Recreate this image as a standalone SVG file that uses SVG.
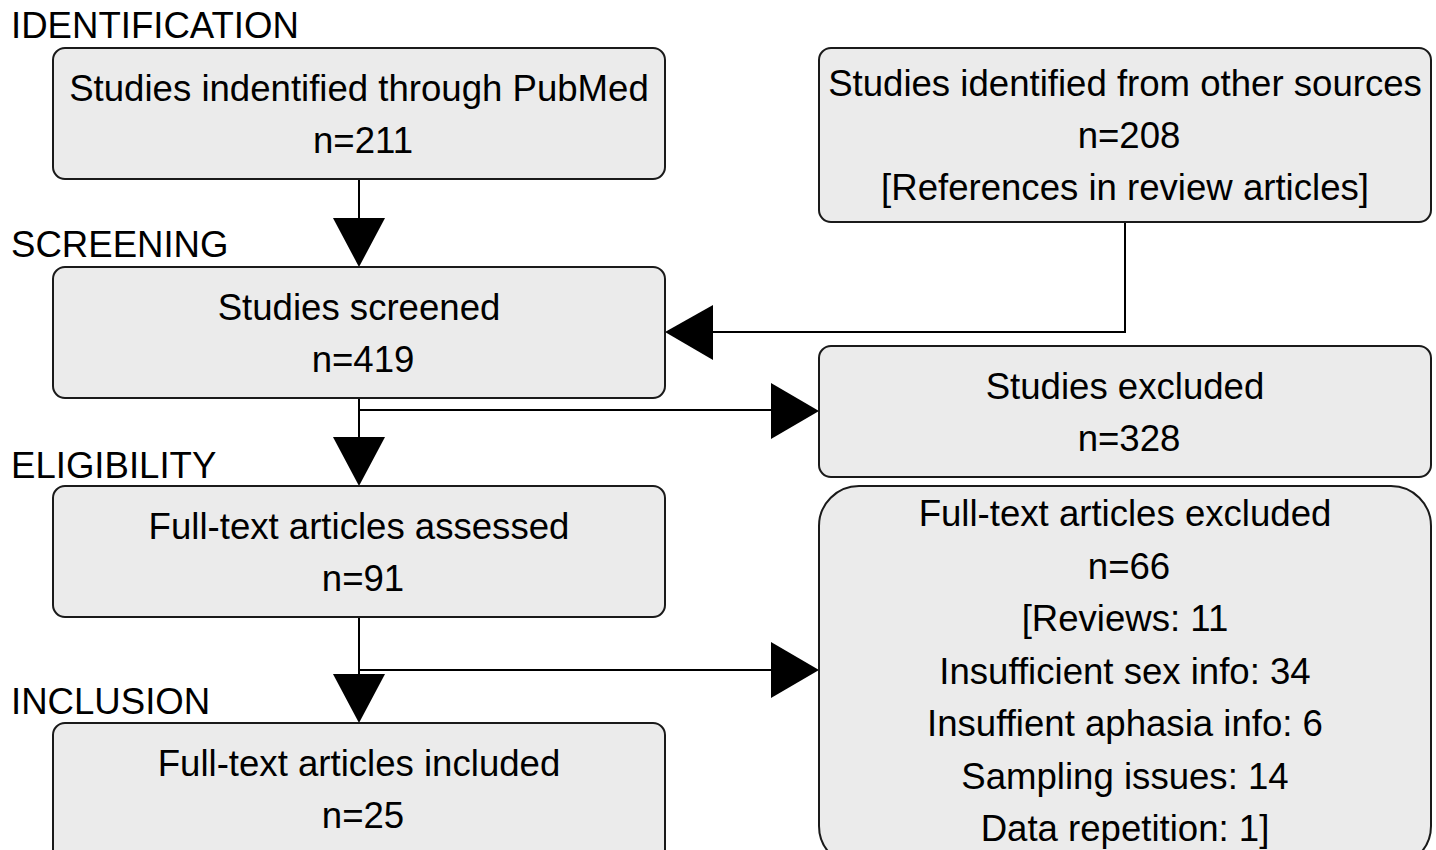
<svg xmlns="http://www.w3.org/2000/svg" width="1436" height="850" viewBox="0 0 1436 850">
<style>
.box{fill:#ebebeb;stroke:#1a1a1a;stroke-width:2}
.t{font-family:"Liberation Sans",Arial,sans-serif;font-size:36.6px;fill:#000;text-anchor:middle}
.lbl{font-family:"Liberation Sans",Arial,sans-serif;font-size:36.6px;fill:#000}
.ln{fill:none;stroke:#000;stroke-width:2}
.ah{fill:#000}
</style>
<rect width="1436" height="850" fill="#fff"/>
<g id="labels">
<text class="lbl" x="11" y="38">IDENTIFICATION</text>
<text class="lbl" x="11" y="257">SCREENING</text>
<text class="lbl" x="11" y="478">ELIGIBILITY</text>
<text class="lbl" x="11" y="714">INCLUSION</text>
</g>
<g id="connectors">
<path class="ln" d="M359 179 V240"/>
<polygon class="ah" points="333,218 385,218 359,267"/>
<path class="ln" d="M1125 222 V332 H700"/>
<polygon class="ah" points="713,305 713,360 665,332"/>
<path class="ln" d="M359 398 V460 M359 410 H790"/>
<polygon class="ah" points="771,383 771,439 819,411"/>
<polygon class="ah" points="333,437 385,437 359,486"/>
<path class="ln" d="M359 617 V700 M359 670 H790"/>
<polygon class="ah" points="771,642 771,698 819,670"/>
<polygon class="ah" points="333,674 385,674 359,723"/>
</g>
<g id="pubmed">
<rect class="box" x="53" y="48" width="612" height="131" rx="12"/>
<text class="t" x="359" y="101">Studies indentified through PubMed</text>
<text class="t" x="363" y="153">n=211</text>
</g>
<g id="other">
<rect class="box" x="819" y="48" width="612" height="174" rx="12"/>
<text class="t" x="1125" y="96">Studies identified from other sources</text>
<text class="t" x="1129" y="148">n=208</text>
<text class="t" x="1125" y="200">[References in review articles]</text>
</g>
<g id="screened">
<rect class="box" x="53" y="267" width="612" height="131" rx="12"/>
<text class="t" x="359" y="320">Studies screened</text>
<text class="t" x="363" y="372">n=419</text>
</g>
<g id="excluded">
<rect class="box" x="819" y="346" width="612" height="131" rx="12"/>
<text class="t" x="1125" y="399">Studies excluded</text>
<text class="t" x="1129" y="451">n=328</text>
</g>
<g id="assessed">
<rect class="box" x="53" y="486" width="612" height="131" rx="12"/>
<text class="t" x="359" y="539">Full-text articles assessed</text>
<text class="t" x="363" y="591">n=91</text>
</g>
<g id="ftexcluded">
<rect class="box" x="819" y="486" width="612" height="380" rx="40"/>
<text class="t" x="1125" y="526">Full-text articles excluded</text>
<text class="t" x="1129" y="579">n=66</text>
<text class="t" x="1125" y="631">[Reviews: 11</text>
<text class="t" x="1125" y="684">Insufficient sex info: 34</text>
<text class="t" x="1125" y="736">Insuffient aphasia info: 6</text>
<text class="t" x="1125" y="789">Sampling issues: 14</text>
<text class="t" x="1125" y="841">Data repetition: 1]</text>
</g>
<g id="included">
<rect class="box" x="53" y="723" width="612" height="150" rx="12"/>
<text class="t" x="359" y="776">Full-text articles included</text>
<text class="t" x="363" y="828">n=25</text>
</g>
</svg>
